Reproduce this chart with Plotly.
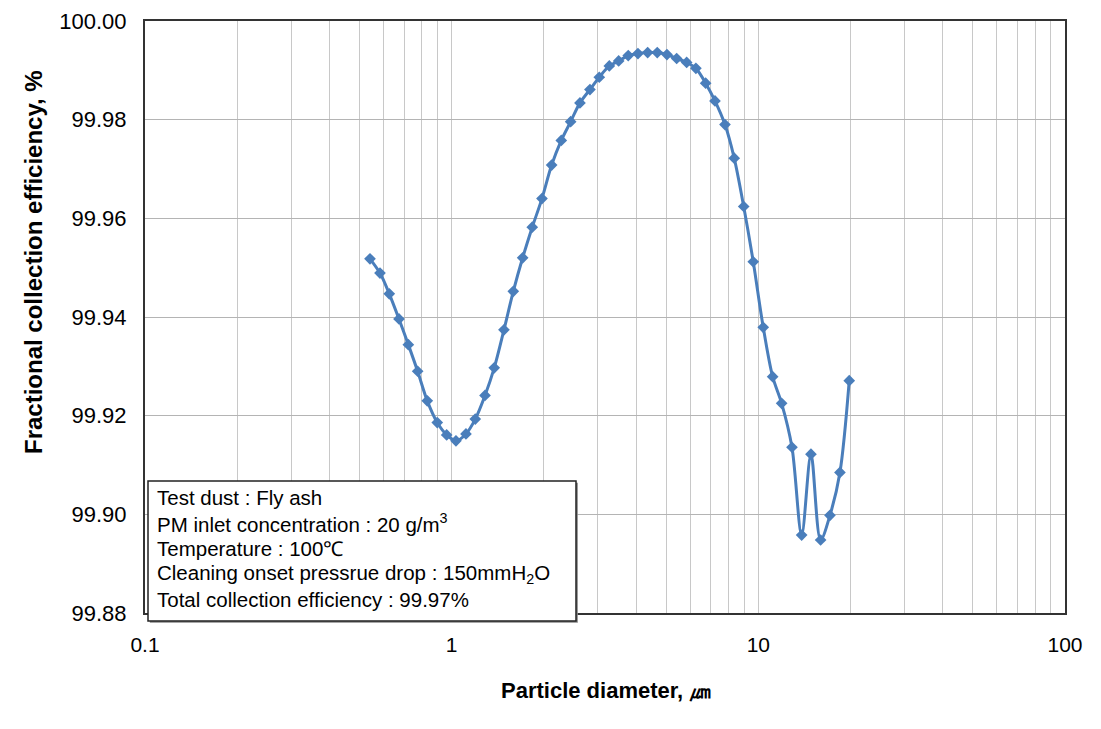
import plotly.graph_objects as go

diameter = [0.5416, 0.5838, 0.6260, 0.6733, 0.7222, 0.7746, 0.8326, 0.8975, 0.9632, 1.0328,
            1.1133, 1.1938, 1.2844, 1.3766, 1.4808, 1.5884, 1.7041, 1.8313, 1.9700, 2.1184,
            2.2773, 2.4434, 2.6200, 2.8241, 3.0288, 3.2659, 3.5040, 3.7653, 4.0497, 4.3561,
            4.6817, 5.0350, 5.4163, 5.8387, 6.2574, 6.7329, 7.2211, 7.7839, 8.3430, 8.9593,
            9.6250, 10.375, 11.133, 11.912, 12.873, 13.844, 14.846, 15.962, 17.121, 18.455,
            19.790]
efficiency = [99.9518, 99.9489, 99.9447, 99.9396, 99.9344, 99.9290, 99.9230, 99.9186, 99.9161, 99.9149,
              99.9163, 99.9193, 99.9241, 99.9297, 99.9374, 99.9452, 99.9520, 99.9582, 99.9640, 99.9708,
              99.9758, 99.9796, 99.9834, 99.9861, 99.9886, 99.9909, 99.9919, 99.9930, 99.9934, 99.9936,
              99.9936, 99.9932, 99.9924, 99.9916, 99.9904, 99.9874, 99.9838, 99.9790, 99.9722, 99.9624,
              99.9512, 99.9379, 99.9279, 99.9225, 99.9136, 99.8958, 99.9122, 99.8948, 99.8998, 99.9085,
              99.9271]

y_ticks = [99.88, 99.90, 99.92, 99.94, 99.96, 99.98, 100.00]
x_ticks = [0.1, 1, 10, 100]
x_labels = ["0.1", "1", "10", "100"]

info_lines = [
    "Test dust : Fly ash",
    "PM inlet concentration : 20 g/m<sup>3</sup>",
    "Temperature : 100℃",
    "Cleaning onset pressrue drop : 150mmH<sub>2</sub>O",
    "Total collection efficiency : 99.97%",
]

BLUE = "#4A7EBB"
FONT = "Liberation Sans, Arial, sans-serif"

fig = go.Figure()
fig.add_trace(go.Scatter(
    x=diameter, y=efficiency, mode="lines+markers",
    line=dict(color=BLUE, width=3, shape="spline", smoothing=0.9),
    marker=dict(symbol="diamond", size=9, color=BLUE),
    showlegend=False, hoverinfo="skip",
))

fig.update_layout(
    width=1101, height=729,
    margin=dict(l=145, r=36, t=21, b=116, autoexpand=False),
    paper_bgcolor="white", plot_bgcolor="white",
    font=dict(family=FONT, size=21, color="black"),
    xaxis=dict(type="log", range=[-1, 2], tickvals=x_ticks, ticktext=x_labels,
               tickangle=0, automargin=False,
               showgrid=True, gridcolor="#C8C8C8", gridwidth=1,
               minor=dict(dtick="D1", showgrid=True, gridcolor="#C8C8C8", gridwidth=1, ticks=""),
               showline=True, linecolor="#333333", linewidth=2, mirror=True,
               ticks="", ticklen=0, tickfont=dict(size=21), ticklabelstandoff=12,
               zeroline=False),
    yaxis=dict(range=[99.88, 100.0], tickvals=y_ticks, automargin=False,
               ticktext=["%.2f" % v for v in y_ticks],
               showgrid=True, gridcolor="#B4B4B4", gridwidth=1,
               showline=True, linecolor="#333333", linewidth=2, mirror=True,
               ticks="", tickfont=dict(size=22), ticklabelstandoff=12, zeroline=False),
)

# axis titles
fig.add_annotation(xref="paper", yref="paper", x=(606 - 145) / 920, y=(613 - 690) / 592,
                   yanchor="middle", text="<b>Particle diameter, ㎛</b>", showarrow=False,
                   font=dict(size=22, family=FONT))
fig.add_annotation(xref="paper", yref="paper", x=(33 - 145) / 920, xanchor="center",
                   y=(613 - 262) / 592, yanchor="middle", textangle=-90,
                   text="<b>Fractional collection efficiency, %</b>", showarrow=False,
                   font=dict(size=24, family=FONT))

# info box
x0, x1 = (148 - 145) / 920, (576 - 145) / 920
y0, y1 = (613 - 621) / 592, (613 - 481) / 592
fig.add_shape(type="rect", xref="paper", yref="paper",
              x0=x0 + 0.002, x1=x1 + 0.002, y0=y0 - 0.003, y1=y1 - 0.003,
              fillcolor="#888888", line=dict(width=0), layer="above")
fig.add_shape(type="rect", xref="paper", yref="paper",
              x0=x0, x1=x1, y0=y0, y1=y1,
              fillcolor="white", line=dict(color="#222222", width=1.5), layer="above")
line_y = [497, 523, 548, 574, 599]
for txt, py in zip(info_lines, line_y):
    fig.add_annotation(xref="paper", yref="paper", x=(155 - 145) / 920, xanchor="left",
                       y=(613 - py) / 592, yanchor="middle", text=txt, showarrow=False,
                       font=dict(size=20.5, family=FONT))

fig.write_html("out.html")
